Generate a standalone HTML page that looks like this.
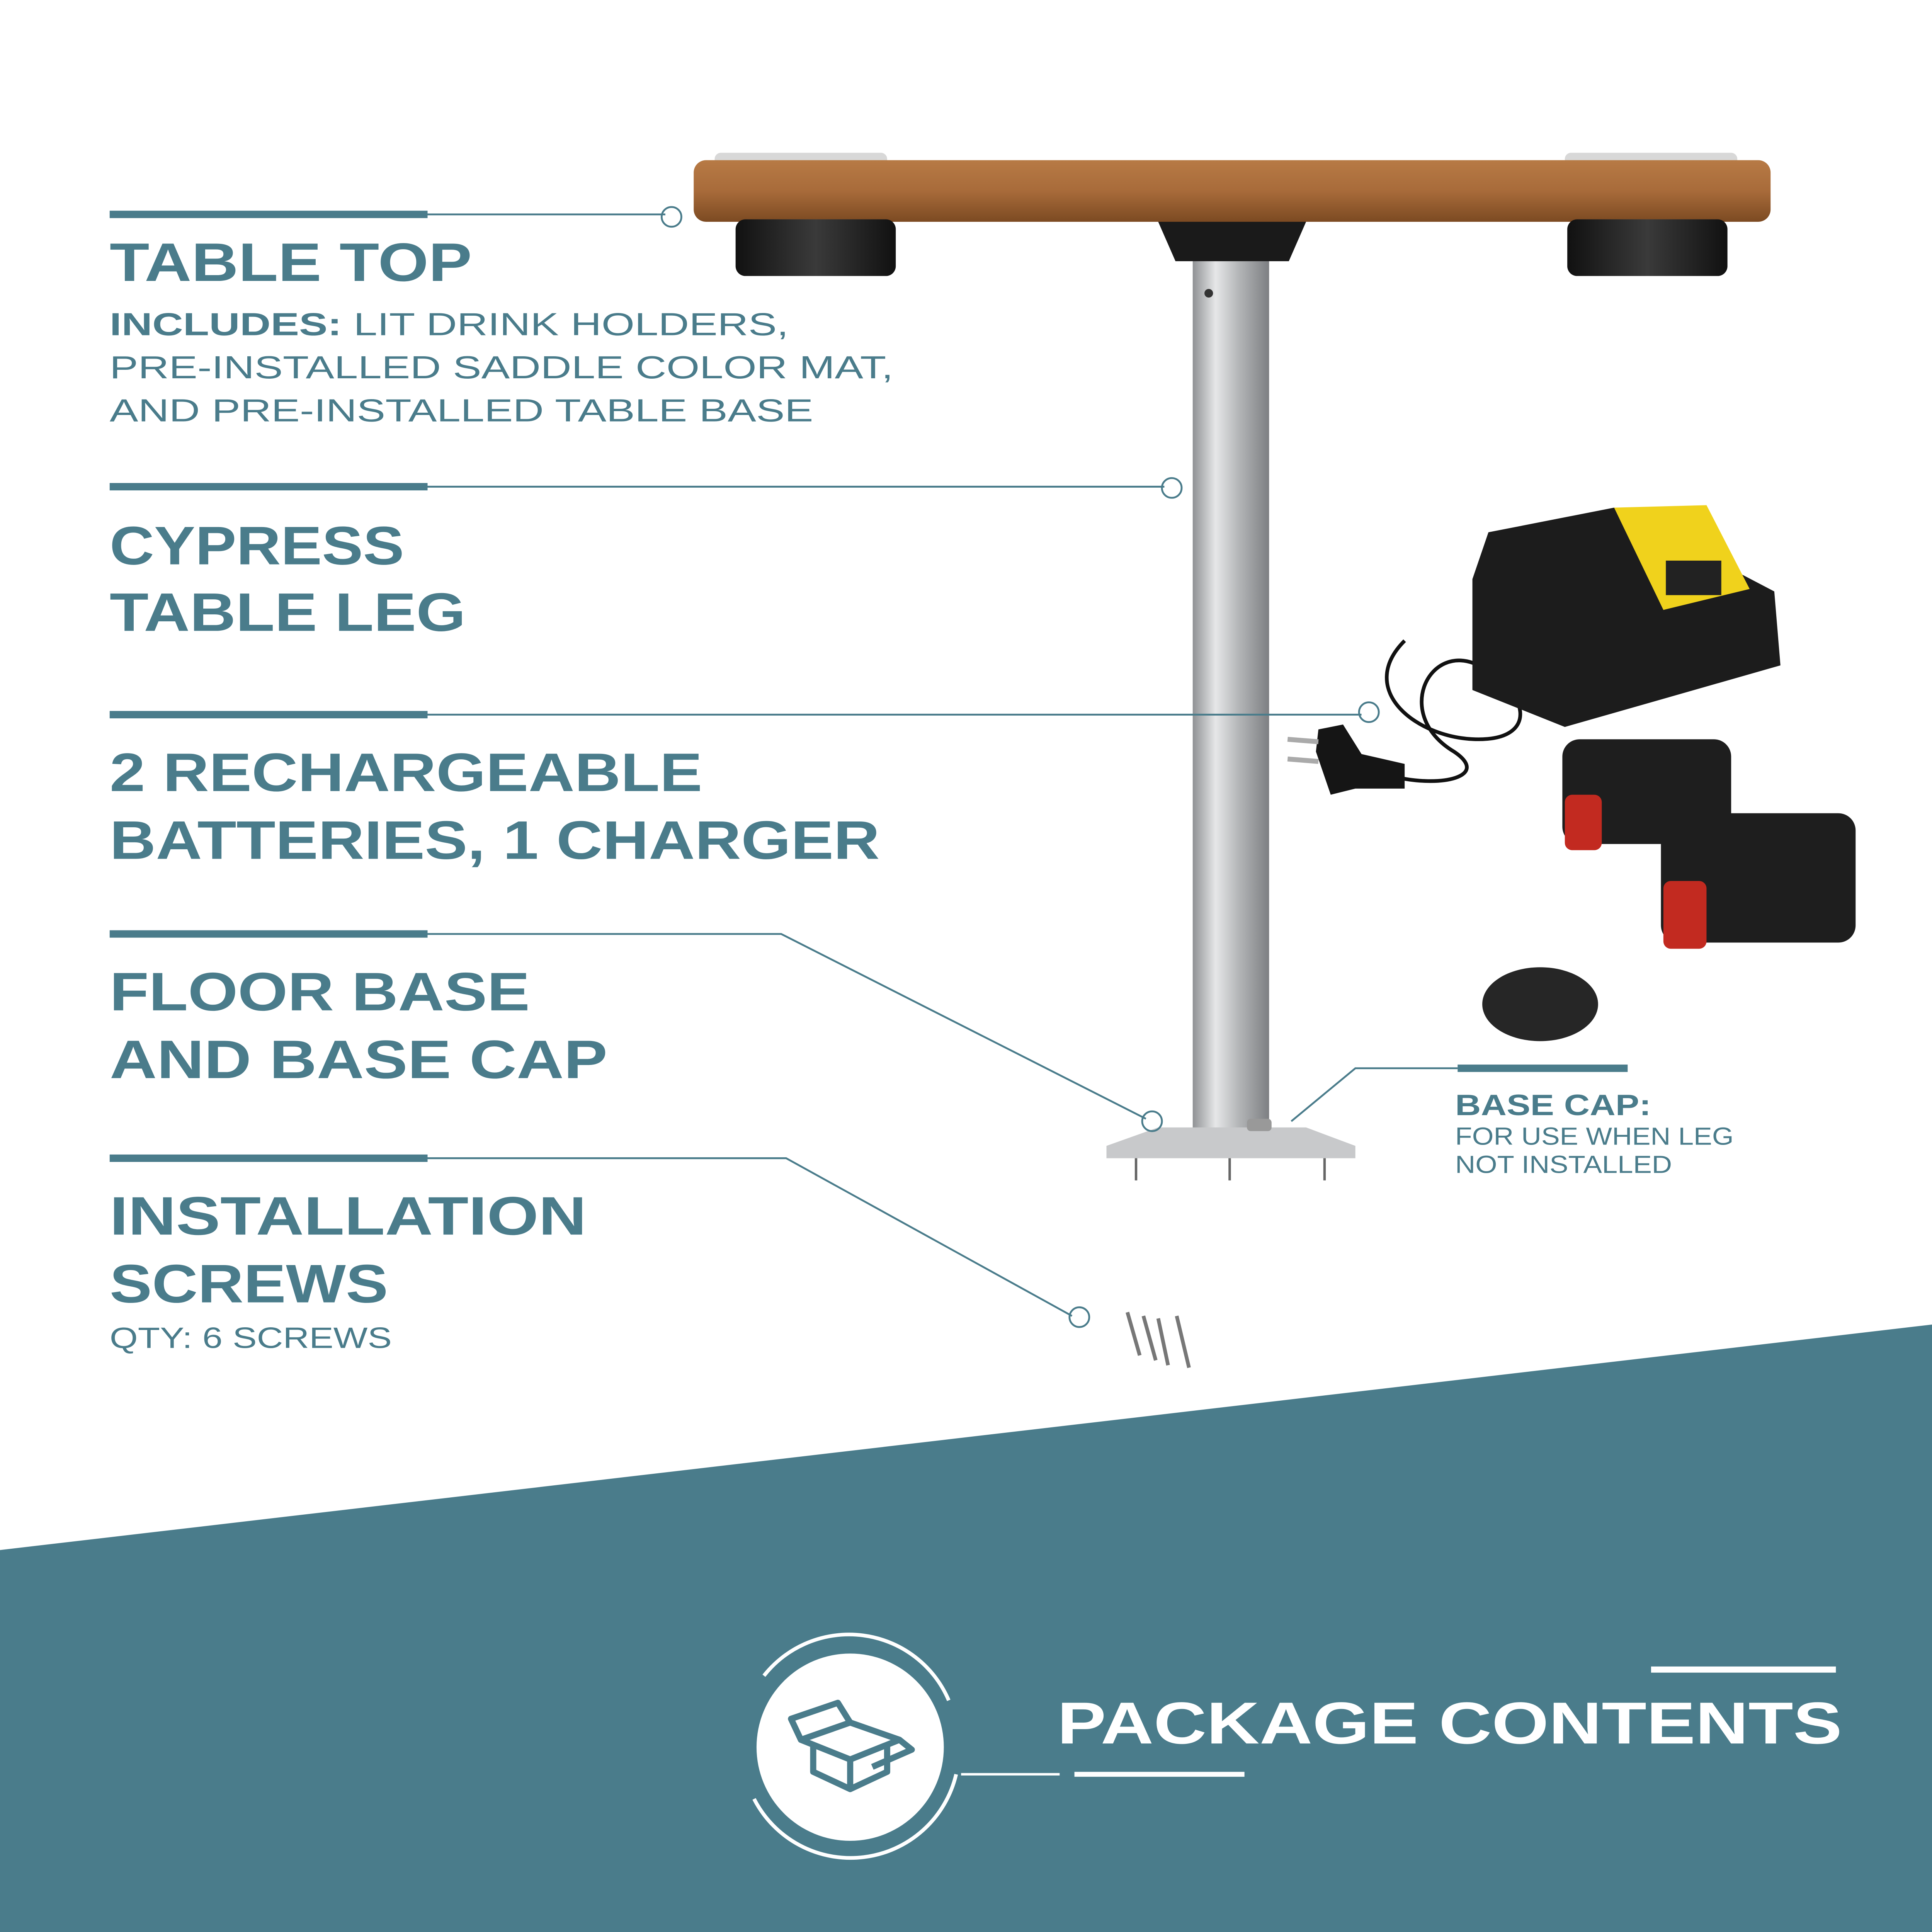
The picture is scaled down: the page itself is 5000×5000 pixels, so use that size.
<!DOCTYPE html>
<html><head><meta charset="utf-8"><style>
html,body{margin:0;padding:0;background:#fff}
svg{display:block}
text{font-family:"Liberation Sans",sans-serif;}
</style></head><body>
<svg width="5000" height="5000" viewBox="0 0 1568 1568" xmlns="http://www.w3.org/2000/svg">
<defs>
<linearGradient id="wood" x1="0" y1="0" x2="0" y2="1"><stop offset="0" stop-color="#b77a45"/><stop offset="0.5" stop-color="#a86b3a"/><stop offset="1" stop-color="#7c4a22"/></linearGradient>
<linearGradient id="steel" x1="0" y1="0" x2="1" y2="0"><stop offset="0" stop-color="#8f9194"/><stop offset="0.3" stop-color="#e6e7e8"/><stop offset="0.6" stop-color="#b4b6b8"/><stop offset="1" stop-color="#7d7f82"/></linearGradient>
<linearGradient id="blk" x1="0" y1="0" x2="1" y2="0"><stop offset="0" stop-color="#111"/><stop offset="0.5" stop-color="#3a3a3a"/><stop offset="1" stop-color="#111"/></linearGradient>
</defs>
<rect width="1568" height="1568" fill="#fff"/>
<polygon points="0,1258 1568,1075 1568,1568 0,1568" fill="#4a7c8b"/>

<!-- table -->
<rect x="580" y="124" width="140" height="12" rx="5" fill="#d8d8d8"/>
<rect x="1270" y="124" width="140" height="12" rx="5" fill="#d8d8d8"/>
<rect x="563" y="130" width="874" height="50" rx="10" fill="url(#wood)"/>
<rect x="597" y="178" width="130" height="46" rx="8" fill="url(#blk)"/>
<rect x="1272" y="178" width="130" height="46" rx="8" fill="url(#blk)"/>
<polygon points="940,180 1060,180 1046,212 954,212" fill="#1a1a1a"/>
<rect x="968" y="212" width="62" height="705" fill="url(#steel)"/>
<circle cx="981" cy="238" r="3.5" fill="#333"/>
<polygon points="940,915 1060,915 1100,930 1100,940 898,940 898,930" fill="#c8c9cb"/>
<rect x="1012" y="908" width="20" height="10" rx="3" fill="#999"/>
<line x1="922" y1="940" x2="922" y2="958" stroke="#666" stroke-width="2"/>
<line x1="998" y1="940" x2="998" y2="958" stroke="#666" stroke-width="2"/>
<line x1="1075" y1="940" x2="1075" y2="958" stroke="#666" stroke-width="2"/>

<!-- charger -->
<path d="M1140,520 C1100,560 1150,600 1200,600 C1250,600 1240,560 1200,540 C1160,520 1130,580 1180,610 C1210,630 1170,640 1130,630" fill="none" stroke="#111" stroke-width="3"/>
<polygon points="1208,432 1310,412 1440,480 1445,540 1270,590 1195,560 1195,470" fill="#1c1c1c"/>
<polygon points="1310,412 1385,410 1420,478 1350,495" fill="#f0d21c"/>
<rect x="1352" y="455" width="45" height="28" fill="#222"/>
<polygon points="1070,592 1090,588 1105,612 1140,620 1140,640 1100,640 1080,645 1068,610" fill="#151515"/>
<line x1="1045" y1="600" x2="1070" y2="602" stroke="#aaa" stroke-width="4"/>
<line x1="1045" y1="616" x2="1070" y2="618" stroke="#aaa" stroke-width="4"/>
<!-- batteries -->
<rect x="1268" y="600" width="137" height="85" rx="14" fill="#1e1e1e"/>
<rect x="1270" y="645" width="30" height="45" rx="6" fill="#c22a20"/>
<rect x="1348" y="660" width="158" height="105" rx="14" fill="#1e1e1e"/>
<rect x="1350" y="715" width="35" height="55" rx="6" fill="#c22a20"/>
<ellipse cx="1250" cy="815" rx="47" ry="30" fill="#262626"/>
<!-- screws -->
<g stroke="#777" stroke-width="3">
<line x1="915" y1="1065" x2="925" y2="1100"/><line x1="928" y1="1068" x2="938" y2="1104"/>
<line x1="940" y1="1070" x2="948" y2="1108"/><line x1="955" y1="1068" x2="965" y2="1110"/>
</g>

<!-- connectors -->
<g fill="#4a7c8b">
<rect x="89" y="171" width="258" height="6"/><rect x="89" y="392" width="258" height="6"/>
<rect x="89" y="577" width="258" height="6"/><rect x="89" y="755" width="258" height="6"/>
<rect x="89" y="937" width="258" height="6"/><rect x="1183" y="864" width="138" height="6"/>
</g>
<g fill="none" stroke="#4a7c8b" stroke-width="1.5">
<polyline points="347,174 540,174"/><polyline points="347,395 945,395"/>
<polyline points="347,580 1105,580"/><polyline points="347,758 634,758 930,908"/>
<polyline points="347,940 638,940 870,1068"/><polyline points="1183,867 1100,867 1048,910"/>
<circle cx="545" cy="176" r="8"/><circle cx="951" cy="396" r="8"/><circle cx="1111" cy="578" r="8"/>
<circle cx="935" cy="910" r="8"/><circle cx="876" cy="1069" r="8"/>
</g>

<!-- labels -->
<g fill="#4a7c8b" font-weight="bold">
<text x="89" y="228" font-size="44" textLength="294" lengthAdjust="spacingAndGlyphs">TABLE TOP</text>
<text x="89" y="272" font-size="26" textLength="551" lengthAdjust="spacingAndGlyphs">INCLUDES: <tspan font-weight="normal">LIT DRINK HOLDERS,</tspan></text>
<text x="89" y="307" font-size="26" font-weight="normal" textLength="636" lengthAdjust="spacingAndGlyphs">PRE-INSTALLED SADDLE COLOR MAT,</text>
<text x="89" y="342" font-size="26" font-weight="normal" textLength="571" lengthAdjust="spacingAndGlyphs">AND PRE-INSTALLED TABLE BASE</text>
<text x="89" y="458" font-size="44" textLength="239" lengthAdjust="spacingAndGlyphs">CYPRESS</text>
<text x="89" y="512" font-size="44" textLength="289" lengthAdjust="spacingAndGlyphs">TABLE LEG</text>
<text x="89" y="642" font-size="44" textLength="481" lengthAdjust="spacingAndGlyphs">2 RECHARGEABLE</text>
<text x="89" y="697" font-size="44" textLength="625" lengthAdjust="spacingAndGlyphs">BATTERIES, 1 CHARGER</text>
<text x="89" y="820" font-size="44" textLength="341" lengthAdjust="spacingAndGlyphs">FLOOR BASE</text>
<text x="89" y="875" font-size="44" textLength="404" lengthAdjust="spacingAndGlyphs">AND BASE CAP</text>
<text x="89" y="1002" font-size="44" textLength="387" lengthAdjust="spacingAndGlyphs">INSTALLATION</text>
<text x="89" y="1057" font-size="44" textLength="226" lengthAdjust="spacingAndGlyphs">SCREWS</text>
<text x="89" y="1094" font-size="24" font-weight="normal" textLength="229" lengthAdjust="spacingAndGlyphs">QTY: 6 SCREWS</text>
<text x="1181" y="905" font-size="24" textLength="159" lengthAdjust="spacingAndGlyphs">BASE CAP:</text>
<text x="1181" y="929" font-size="20" font-weight="normal" textLength="226" lengthAdjust="spacingAndGlyphs">FOR USE WHEN LEG</text>
<text x="1181" y="952" font-size="20" font-weight="normal" textLength="176" lengthAdjust="spacingAndGlyphs">NOT INSTALLED</text>
</g>

<!-- package icon -->
<circle cx="690" cy="1418" r="76" fill="#fff"/>
<path d="M620,1360 A88,88 0 0 1 770,1380" fill="none" stroke="#fff" stroke-width="3"/>
<path d="M776,1440 A88,88 0 0 1 612,1460" fill="none" stroke="#fff" stroke-width="3"/>
<g fill="none" stroke="#4a7c8b" stroke-width="5" stroke-linejoin="round">
<polygon points="690,1398 730,1412 690,1428 650,1412"/>
<polyline points="660,1416 660,1438 690,1452 720,1438 720,1416"/>
<line x1="690" y1="1428" x2="690" y2="1452"/>
<polyline points="650,1412 642,1395 680,1382 690,1398"/>
<polyline points="730,1412 740,1420 708,1434"/>
</g>
<g stroke="#fff">
<line x1="780" y1="1440" x2="860" y2="1440" stroke-width="2"/>
<line x1="872" y1="1440" x2="1010" y2="1440" stroke-width="4"/>
<line x1="1340" y1="1355" x2="1490" y2="1355" stroke-width="5"/>
</g>
<text x="858" y="1415" font-size="48" font-weight="bold" fill="#fff" textLength="637" lengthAdjust="spacingAndGlyphs">PACKAGE CONTENTS</text>
</svg>
</body></html>
